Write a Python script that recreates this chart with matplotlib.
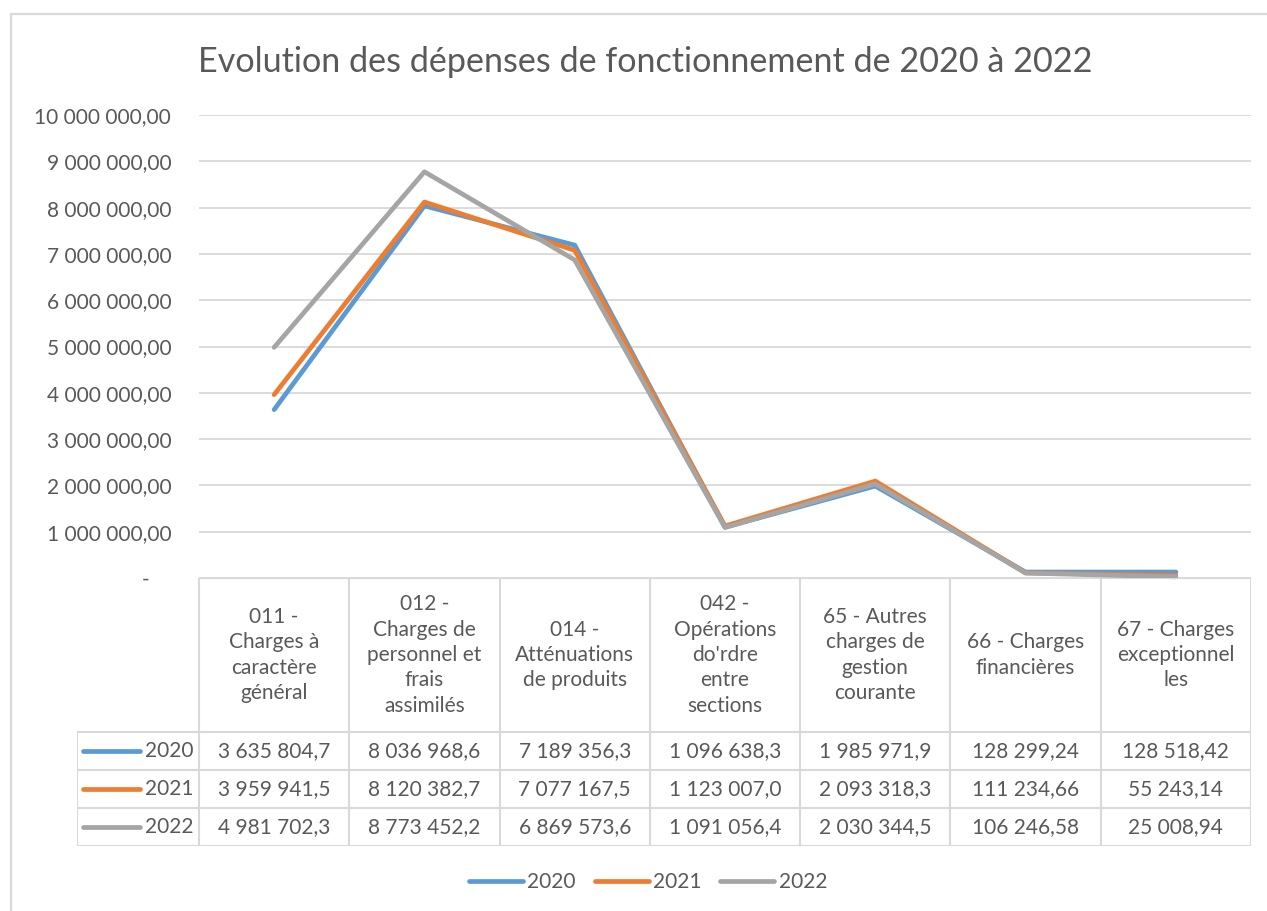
import numpy as np
import matplotlib
matplotlib.use("Agg")
import matplotlib.pyplot as plt
from matplotlib.lines import Line2D
from matplotlib.patches import Rectangle

plt.rcParams['font.family'] = ['Lato', 'DejaVu Sans']

categories = [
    "011 -\nCharges à\ncaractère\ngénéral",
    "012 -\nCharges de\npersonnel et\nfrais\nassimilés",
    "014 -\nAtténuations\nde produits",
    "042 -\nOpérations\ndo'rdre\nentre\nsections",
    "65 - Autres\ncharges de\ngestion\ncourante",
    "66 - Charges\nfinancières",
    "67 - Charges\nexceptionnel\nles",
]
years = ["2020", "2021", "2022"]
v2020 = [3635804.7, 8036968.6, 7189356.3, 1096638.3, 1985971.9, 128299.24, 128518.42]
v2021 = [3959941.5, 8120382.7, 7077167.5, 1123007.0, 2093318.3, 111234.66, 55243.14]
v2022 = [4981702.3, 8773452.2, 6869573.6, 1091056.4, 2030344.5, 106246.58, 25008.94]
series = [v2020, v2021, v2022]
colors = ["#5B9BD5", "#ED7D31", "#A5A5A5"]

TXT = "#595959"
GRID = "#D9D9D9"
W, H = 1267, 911
FS = 15


def fx(px):
    return px / W


def fy(py):
    return 1 - py / H


def fr(v, d):
    s = f"{v:,.{d}f}"
    return s.replace(",", " ").replace(".", ",")


fig = plt.figure(figsize=(W / 100, H / 100), dpi=100)
fig.patch.set_facecolor("white")

# chart frame
fig.patches.append(Rectangle((fx(11), -0.1), 1.2, fy(14) + 0.1, transform=fig.transFigure,
                             fill=False, edgecolor=GRID, lw=1.6))

fig.text(fx(645), fy(62), "Evolution des dépenses de fonctionnement de 2020 à 2022",
         ha="center", va="center", fontsize=24.6, color=TXT)

# line chart
ax = fig.add_axes([fx(199), fy(578), fx(1251) - fx(199), fy(115) - fy(578)])
x = np.arange(len(categories))
for yr, vals, c in zip(years, series, colors):
    ax.plot(x, vals, color=c, lw=3.4, solid_capstyle="round", solid_joinstyle="round",
            clip_on=False, zorder=3)
ax.set_xlim(-0.5, len(categories) - 0.5)
ax.set_ylim(0, 1e7)
ticks = np.arange(0, 1.01e7, 1e6)
ax.set_yticks(ticks)
ax.set_yticklabels(["-    "] + [fr(t, 2) for t in ticks[1:]])
ax.yaxis.grid(True, color=GRID, lw=1.3)
ax.set_axisbelow(True)
ax.set_xticks([])
ax.tick_params(axis="y", length=0, pad=20, labelsize=FS, labelcolor=TXT)
for s in ax.spines.values():
    s.set_visible(False)
ax.set_facecolor("none")

# data table
colw = (1251 - 199) / len(categories)
left = -0.5 - (199 - 77) / colw
tab = fig.add_axes([fx(77), fy(846), fx(1251) - fx(77), fy(578) - fy(846)])
tab.set_xlim(left, len(categories) - 0.5)
tab.set_ylim(268, 0)
tab.axis("off")
rows = [154, 192, 230, 268]
lk = dict(color=GRID, lw=1.5, solid_capstyle="butt")
tab.plot([-0.5, len(categories) - 0.5], [0, 0], **lk)
for r in rows:
    tab.plot([left, len(categories) - 0.5], [r, r], **lk)
for k in range(len(categories) + 1):
    tab.plot([k - 0.5, k - 0.5], [0, 268], **lk)
tab.plot([left, left], [154, 268], **lk)

for i, cat in enumerate(categories):
    tab.text(i, 77, cat, ha="center", va="center", multialignment="center",
             fontsize=FS, color=TXT, linespacing=1.33)

for j, (yr, vals, c) in enumerate(zip(years, series, colors)):
    yc = (rows[j] + rows[j + 1]) / 2
    tab.plot([left + 6 / colw, left + 63 / colw], [yc, yc], color=c, lw=3.4,
             solid_capstyle="round")
    tab.text(-0.5 - 5 / colw, yc, yr, ha="right", va="center", fontsize=FS, color=TXT)
    for i, v in enumerate(vals):
        d = 1 if v >= 1e6 else 2
        tab.text(i, yc, fr(v, d), ha="center", va="center", fontsize=FS, color=TXT)

handles = [Line2D([], [], color=c, lw=3.4, solid_capstyle="round") for c in colors]
fig.legend(handles, years, loc="center", bbox_to_anchor=(fx(648), fy(882)), ncol=3,
           frameon=False, handlelength=2.6, handletextpad=0.2, columnspacing=0.9,
           fontsize=FS, labelcolor=TXT)

fig.savefig("out.png", dpi=100)
